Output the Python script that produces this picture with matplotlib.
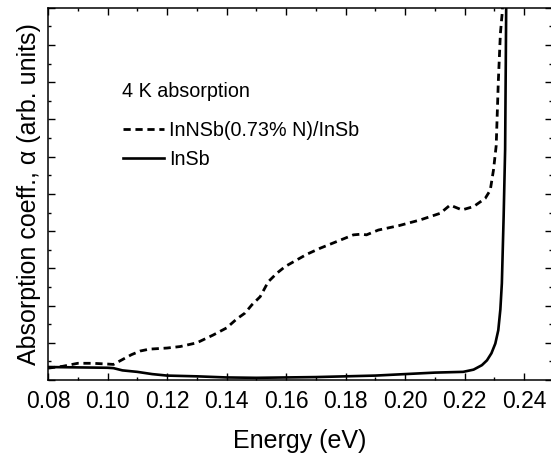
import matplotlib
matplotlib.use('Agg')
import matplotlib.pyplot as plt
from matplotlib.ticker import MultipleLocator, FormatStrFormatter

plt.rcParams['font.family'] = ['Liberation Sans', 'DejaVu Sans']

# InNSb(0.73% N)/InSb
e_innsb = [0.080, 0.085, 0.090, 0.095, 0.100, 0.102, 0.105, 0.108, 0.111, 0.114,
           0.120, 0.1244, 0.130, 0.1355, 0.140, 0.1434, 0.1462, 0.1485, 0.1513,
           0.154, 0.1569, 0.1597, 0.163, 0.167, 0.1714, 0.177, 0.1826, 0.1854,
           0.187, 0.191, 0.198, 0.205, 0.2118, 0.2151, 0.2191, 0.223, 0.2269,
           0.2286, 0.2297, 0.2306, 0.2313, 0.232, 0.2326, 0.2330]
a_innsb = [0.32, 0.37, 0.45, 0.45, 0.43, 0.42, 0.55, 0.68, 0.78, 0.83,
           0.86, 0.90, 1.00, 1.21, 1.40, 1.64, 1.80, 2.02, 2.24,
           2.64, 2.87, 3.05, 3.20, 3.38, 3.54, 3.72, 3.90, 3.92,
           3.90, 4.03, 4.15, 4.30, 4.48, 4.70, 4.57, 4.66, 4.88,
           5.10, 5.65, 6.30, 8.00, 9.30, 9.85, 10.5]

# InSb
e_insb = [0.080, 0.090, 0.100, 0.102, 0.105, 0.110, 0.115, 0.120, 0.130, 0.140,
          0.150, 0.160, 0.170, 0.180, 0.190, 0.200, 0.210, 0.2195, 0.223,
          0.2258, 0.2275, 0.229, 0.2303, 0.2313, 0.2320, 0.2325, 0.2331,
          0.2336, 0.2340]
a_insb = [0.35, 0.34, 0.33, 0.32, 0.26, 0.22, 0.16, 0.12, 0.10, 0.07,
          0.06, 0.07, 0.08, 0.10, 0.12, 0.16, 0.20, 0.22, 0.28,
          0.40, 0.53, 0.72, 0.98, 1.34, 1.90, 2.60, 4.40,
          6.20, 10.5]

fig = plt.figure(figsize=(5.51, 4.59), dpi=100)
ax = fig.add_axes([0.0871, 0.172, 0.915, 0.811])

ax.plot(e_innsb, a_innsb, color='black', lw=2.0, ls=(0, (2.6, 1.7)),
        label='InNSb(0.73% N)/InSb')
ax.plot(e_insb, a_insb, color='black', lw=1.9, label='InSb')

ax.set_xlim(0.08, 0.2494)
ax.set_ylim(0, 10)
ax.xaxis.set_major_locator(MultipleLocator(0.02))
ax.xaxis.set_minor_locator(MultipleLocator(0.01))
ax.xaxis.set_major_formatter(FormatStrFormatter('%.2f'))
ax.yaxis.set_major_locator(MultipleLocator(1))
ax.yaxis.set_minor_locator(MultipleLocator(0.5))
ax.tick_params(which='both', direction='in', top=True, right=True,
               labelleft=False, width=1.0)
ax.tick_params(which='major', length=5, labelsize=16.5, pad=7)
ax.tick_params(which='minor', length=2.5)
for s in ax.spines.values():
    s.set_linewidth(1.1)

ax.set_xlabel('Energy (eV)', fontsize=18, labelpad=12)
ax.set_ylabel('Absorption coeff., α (arb. units)', fontsize=18, labelpad=5)

ax.text((122 - 48) / 504, (380 - 97) / 372, '4 K absorption', fontsize=14.2,
        transform=ax.transAxes, va='baseline')

ax.legend(loc='upper left', bbox_to_anchor=((123 - 48) / 504, (380 - 121) / 372),
          frameon=False, fontsize=14.2, handlelength=2.1, handletextpad=0.25,
          labelspacing=0.5, borderaxespad=0, borderpad=0)

fig.savefig('out.png', dpi=100)
